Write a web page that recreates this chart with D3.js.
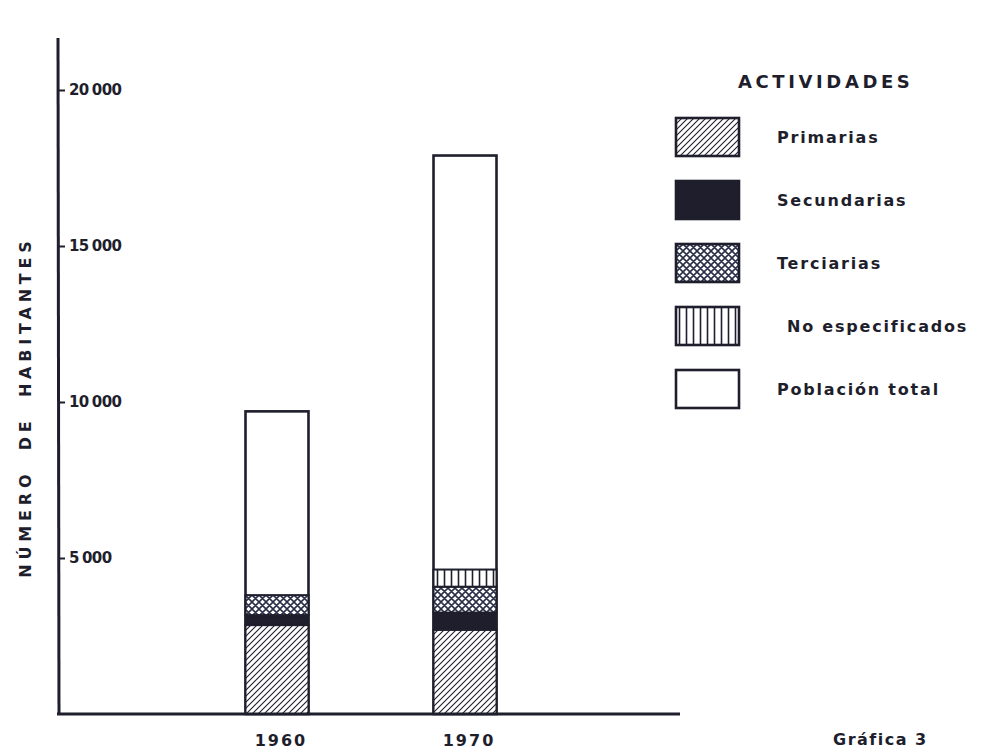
<!DOCTYPE html>
<html>
<head>
<meta charset="utf-8">
<script src="https://cdn.jsdelivr.net/npm/d3@7"></script>
<style>
  html, body { margin: 0; padding: 0; background: #ffffff; }
  svg { display: block; }
  text { font-family: "DejaVu Sans", sans-serif; font-weight: bold; fill: #1e1e2c; }
</style>
</head>
<body>
<svg id="chart" width="984" height="749"></svg>
<script>
// ---- data ----
const years = ["1960", "1970"];
const primarias = [2850, 2700];
const secundarias = [320, 550];
const terciarias = [640, 830];
const noEspecificados = [0, 550];
const poblacionTotal = [9700, 17900];
const yTickValues = [5000, 10000, 15000, 20000];
const yTickLabels = ["5 000", "10 000", "15 000", "20 000"];
const legendTitle = "ACTIVIDADES";
const legendLabels = ["Primarias", "Secundarias", "Terciarias", "No especificados", "Población total"];
const yAxisTitle = "NÚMERO DE HABITANTES";
const footnote = "Gráfica  3";

// ---- setup ----
const ink = "#1e1e2c";
const svg = d3.select("#chart");
svg.append("rect").attr("width", 984).attr("height", 749).attr("fill", "#ffffff");

const defs = svg.append("defs");
// diagonal hatch (Primarias)
const pDiag = defs.append("pattern").attr("id", "diag")
  .attr("patternUnits", "userSpaceOnUse").attr("width", 6).attr("height", 6);
pDiag.append("rect").attr("width", 6).attr("height", 6).attr("fill", "#fff");
pDiag.append("path").attr("d", "M0,6 L6,0 M-1.5,1.5 L1.5,-1.5 M4.5,7.5 L7.5,4.5")
  .attr("stroke", ink).attr("stroke-width", 1.1);
// cross hatch (Terciarias)
const pCross = defs.append("pattern").attr("id", "cross")
  .attr("patternUnits", "userSpaceOnUse").attr("width", 7).attr("height", 7);
pCross.append("rect").attr("width", 7).attr("height", 7).attr("fill", "#fff");
pCross.append("path").attr("d", "M0,7 L7,0 M-1.75,1.75 L1.75,-1.75 M5.25,8.75 L8.75,5.25 M0,0 L7,7 M-1.75,5.25 L1.75,8.75 M5.25,-1.75 L8.75,1.75")
  .attr("stroke", "#2a2f48").attr("stroke-width", 1.6);
// vertical lines (No especificados)
const pVert = defs.append("pattern").attr("id", "vert")
  .attr("patternUnits", "userSpaceOnUse").attr("width", 7).attr("height", 7);
pVert.append("rect").attr("width", 7).attr("height", 7).attr("fill", "#fff");
pVert.append("path").attr("d", "M3.5,0 L3.5,7").attr("stroke", ink).attr("stroke-width", 1.6);

const fills = {
  primarias: "url(#diag)",
  secundarias: ink,
  terciarias: "url(#cross)",
  noEspecificados: "url(#vert)",
  total: "#ffffff"
};
const keys = ["primarias", "secundarias", "terciarias", "noEspecificados"];

// ---- scales ----
const y = d3.scaleLinear().domain([0, 20000]).range([714, 90]);
const x = d3.scaleBand().domain(years).range([245.5, 496.5]).paddingInner(0.665).paddingOuter(0);

const rows = years.map((yr, i) => ({
  year: yr,
  primarias: primarias[i],
  secundarias: secundarias[i],
  terciarias: terciarias[i],
  noEspecificados: noEspecificados[i],
  total: poblacionTotal[i]
}));

// ---- total bars ----
svg.append("g").selectAll("rect").data(rows).join("rect")
  .attr("x", d => x(d.year))
  .attr("y", d => y(d.total))
  .attr("width", x.bandwidth())
  .attr("height", d => y(0) - y(d.total))
  .attr("fill", fills.total)
  .attr("stroke", ink).attr("stroke-width", 2.6);

// ---- stacked sectors ----
const series = d3.stack().keys(keys)(rows);
svg.append("g").selectAll("g").data(series).join("g")
  .attr("fill", s => fills[s.key])
  .selectAll("rect").data(s => s.filter(d => d[1] - d[0] > 0)).join("rect")
  .attr("x", d => x(d.data.year))
  .attr("y", d => y(d[1]))
  .attr("width", x.bandwidth())
  .attr("height", d => y(d[0]) - y(d[1]))
  .attr("stroke", ink).attr("stroke-width", 2);

// ---- axes ----
const axisX0 = 58;
svg.append("line").attr("x1", axisX0).attr("x2", axisX0 + 1)
  .attr("y1", 38).attr("y2", y(0) + 1)
  .attr("stroke", ink).attr("stroke-width", 3);
svg.append("line").attr("x1", axisX0 - 1).attr("x2", 680)
  .attr("y1", y(0)).attr("y2", y(0))
  .attr("stroke", ink).attr("stroke-width", 3);

const yAxis = d3.axisRight(y).tickValues(yTickValues)
  .tickSize(7).tickPadding(4)
  .tickFormat((d, i) => yTickLabels[i]);
const gy = svg.append("g").attr("transform", `translate(${axisX0},0)`).call(yAxis);
gy.select(".domain").remove();
gy.selectAll(".tick line").attr("stroke", ink).attr("stroke-width", 2);
gy.selectAll(".tick text")
  .style("font-family", "DejaVu Sans, sans-serif")
  .style("font-weight", "bold")
  .style("font-size", "15px")
  .style("letter-spacing", "-0.6px")
  .style("word-spacing", "-1.5px")
  .attr("fill", ink);

// x labels
svg.append("g").selectAll("text").data(years).join("text")
  .attr("x", d => x(d) + x.bandwidth() / 2 + 4)
  .attr("y", 746)
  .attr("text-anchor", "middle")
  .style("font-size", "16px")
  .style("letter-spacing", "2px")
  .text(d => d);

// y title
svg.append("text")
  .attr("transform", "translate(31,407) rotate(-90)")
  .attr("text-anchor", "middle")
  .style("font-size", "16px")
  .style("letter-spacing", "4.8px")
  .style("word-spacing", "9px")
  .text(yAxisTitle);

// ---- legend ----
svg.append("text").attr("x", 738).attr("y", 88)
  .style("font-size", "18px").style("letter-spacing", "3.6px")
  .text(legendTitle);

const legendFills = [fills.primarias, fills.secundarias, fills.terciarias, fills.noEspecificados, fills.total];
const lg = svg.append("g").selectAll("g").data(legendLabels).join("g")
  .attr("transform", (d, i) => `translate(676,${118 + i * 63})`);
lg.append("rect").attr("width", 63).attr("height", 38)
  .attr("fill", (d, i) => legendFills[i])
  .attr("stroke", ink).attr("stroke-width", 2.6);
lg.append("text")
  .attr("x", (d, i) => i === 3 ? 111 : 101)
  .attr("y", 25)
  .style("font-size", "16px")
  .style("letter-spacing", "1.8px")
  .text(d => d);

// footnote
svg.append("text").attr("x", 833).attr("y", 745)
  .style("font-size", "16px").style("letter-spacing", "1.5px")
  .text(footnote);
</script>
</body>
</html>
